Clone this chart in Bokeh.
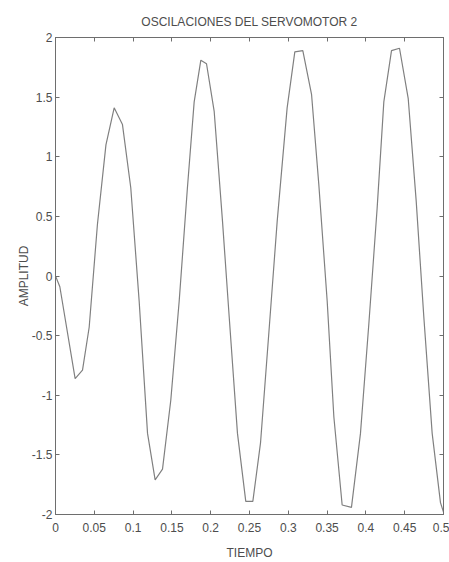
from bokeh.plotting import figure
from bokeh.models import FixedTicker, LinearAxis, Range1d
from bokeh.embed import file_html
from bokeh.resources import INLINE

# ---- data ----
tiempo = [0.0, 0.0056, 0.0253, 0.0348, 0.0434, 0.054, 0.065, 0.0756, 0.0863, 0.097,
          0.1078, 0.1186, 0.1284, 0.1379, 0.1486, 0.1594, 0.170, 0.1787, 0.1873, 0.1946,
          0.2045, 0.2152, 0.2238, 0.2345, 0.2452, 0.2543, 0.2642, 0.2749, 0.2857, 0.2985,
          0.3084, 0.3187, 0.330, 0.3393, 0.3501, 0.3587, 0.3694, 0.3814, 0.393, 0.4038,
          0.4145, 0.4231, 0.433, 0.4433, 0.4545, 0.4648, 0.4746, 0.4854, 0.4961, 0.5]
amplitud = [0.0, -0.09, -0.86, -0.79, -0.43, 0.43, 1.10, 1.41, 1.27, 0.74,
            -0.21, -1.32, -1.71, -1.62, -1.04, -0.21, 0.74, 1.46, 1.81, 1.78,
            1.38, 0.46, -0.34, -1.32, -1.89, -1.89, -1.40, -0.48, 0.46, 1.41,
            1.88, 1.89, 1.52, 0.77, -0.21, -1.18, -1.92, -1.94, -1.32, -0.40,
            0.57, 1.46, 1.89, 1.91, 1.49, 0.63, -0.34, -1.32, -1.90, -1.98]

x_ticks = [0, 0.05, 0.1, 0.15, 0.2, 0.25, 0.3, 0.35, 0.4, 0.45, 0.5]
x_tick_labels = ["0", "0.05", "0.1", "0.15", "0.2", "0.25", "0.3", "0.35", "0.4", "0.45", "0.5"]
y_ticks = [-2, -1.5, -1, -0.5, 0, 0.5, 1, 1.5, 2]
y_tick_labels = ["-2", "-1.5", "-1", "-0.5", "0", "0.5", "1", "1.5", "2"]

title_text = "OSCILACIONES DEL SERVOMOTOR 2"
x_label = "TIEMPO"
y_label = "AMPLITUD"

FONT = "Liberation Sans Narrow, Liberation Sans, Arial, sans-serif"
TXT = "#4d4d4d"
AX = "#6e6e6e"

p = figure(width=449, height=562, output_backend="svg", toolbar_location=None,
           x_range=Range1d(0, 0.5), y_range=Range1d(-2, 2),
           min_border_left=55, min_border_right=6, min_border_top=37, min_border_bottom=47,
           title=title_text)

p.title.align = "center"
p.title.text_font = FONT
p.title.text_font_size = "12px"
p.title.text_font_style = "normal"
p.title.text_color = TXT
p.title.standoff = 18

p.line(tiempo, amplitud, line_color="#808080", line_width=1.2)

p.grid.visible = False
p.outline_line_color = AX
p.outline_line_width = 1
p.background_fill_color = "white"
p.border_fill_color = "white"

bottom_ax = p.xaxis[0]
left_ax = p.yaxis[0]

bottom_ax.ticker = FixedTicker(ticks=x_ticks)
bottom_ax.major_label_overrides = {t: l for t, l in zip(x_ticks, x_tick_labels)}
bottom_ax.axis_label = x_label
left_ax.ticker = FixedTicker(ticks=y_ticks)
left_ax.major_label_overrides = {t: l for t, l in zip(y_ticks, y_tick_labels)}
left_ax.axis_label = y_label

right_ax = LinearAxis(ticker=FixedTicker(ticks=y_ticks))
top_ax = LinearAxis(ticker=FixedTicker(ticks=x_ticks))
p.add_layout(right_ax, "right")
p.add_layout(top_ax, "above")

for ax in [bottom_ax, left_ax, right_ax, top_ax]:
    ax.axis_line_color = AX
    ax.major_tick_line_color = AX
    ax.major_tick_in = 4
    ax.major_tick_out = 0
    ax.minor_tick_line_color = None
    ax.major_label_text_font = FONT
    ax.major_label_text_font_size = "12px"
    ax.major_label_text_color = TXT
    ax.axis_label_text_font = FONT
    ax.axis_label_text_font_size = "12px"
    ax.axis_label_text_font_style = "normal"
    ax.axis_label_text_color = TXT

bottom_ax.major_label_standoff = 8
bottom_ax.axis_label_standoff = 11
left_ax.major_label_standoff = 3
left_ax.axis_label_standoff = -2

for ax in [right_ax, top_ax]:
    ax.major_label_text_color = None
    ax.major_label_text_font_size = "0px"
    ax.major_label_standoff = 0
    ax.axis_label_standoff = 0

open("out.html", "w").write(file_html(p, INLINE))
